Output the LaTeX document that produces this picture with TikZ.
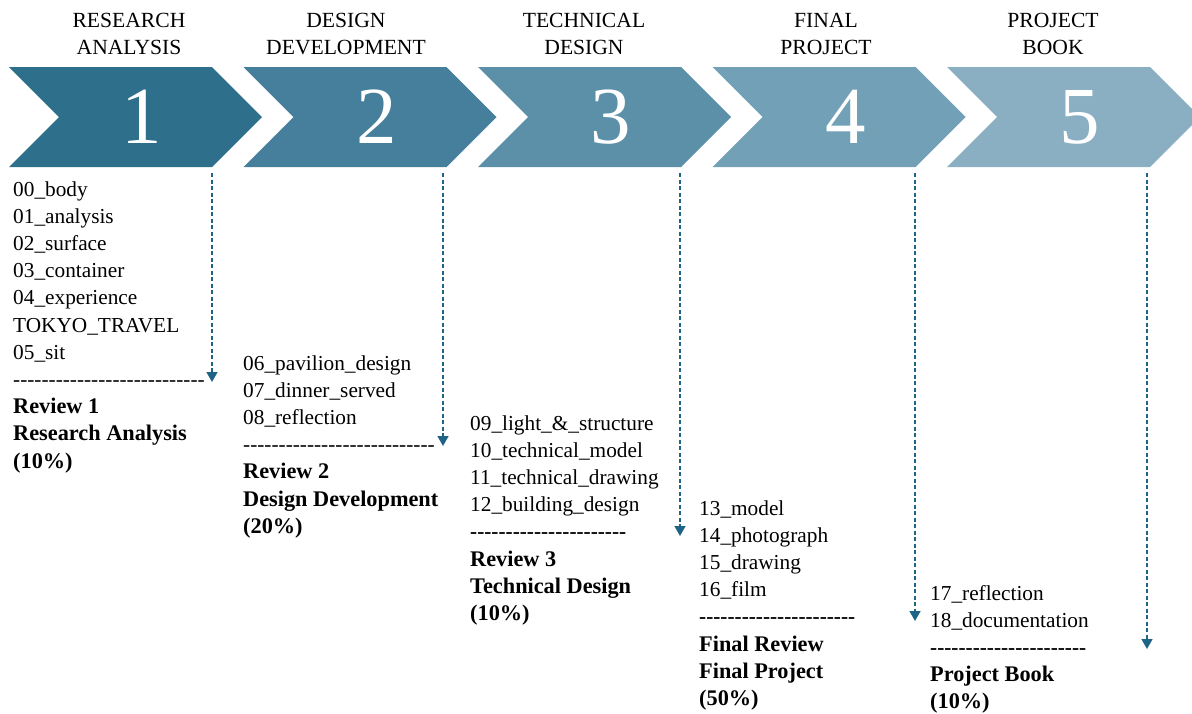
\documentclass[tikz,border=0pt]{standalone}
\usepackage{fontspec}
\setmainfont{Liberation Serif}
\usetikzlibrary{arrows.meta}

% a run of separate hyphens (the kerns keep them from joining into dashes)
\ExplSyntaxOn
\cs_new:Npn \hyphenrun #1 { \prg_replicate:nn {#1} { - \kern 0pt } }
\ExplSyntaxOff

% bold review lines are set a little larger than the task names
\newcommand\rev[1]{{\fontsize{22.3}{27.2}\selectfont\bfseries #1}}

\definecolor{stepA}{RGB}{46,111,139}
\definecolor{stepB}{RGB}{69,127,155}
\definecolor{stepC}{RGB}{92,144,168}
\definecolor{stepD}{RGB}{114,160,182}
\definecolor{stepE}{RGB}{138,175,194}
\definecolor{arrowblue}{RGB}{30,100,135}

\tikzset{
  numlabel/.style={text=white, font=\fontsize{81}{81}\selectfont, inner sep=0pt, anchor=base},
  titlelabel/.style={font=\fontsize{21.6}{27}\selectfont, inner sep=0pt, anchor=base},
  tasklist/.style={font=\fontsize{21.3}{27.2}\selectfont, inner sep=0pt, anchor=base west},
  conn/.style={draw=arrowblue, line width=1.6pt, dash pattern=on 4pt off 2.5pt,
    -{Triangle[width=11pt,length=10pt]}},
}

\begin{document}
\begin{tikzpicture}[x=1pt, y=-1pt]
\useasboundingbox (0,0) rectangle (1192,713);
\clip (0,0) rectangle (1192,713);

% chevrons
\foreach \k/\col in {0/stepA, 1/stepB, 2/stepC, 3/stepD, 4/stepE}{
  \pgfmathsetmacro\L{9+234.5*\k}
  \fill[\col] (\L,67) -- ++(203,0) -- ++(50,50) -- ++(-50,50) -- ++(-203,0) -- ++(50,-50) -- cycle;
}

% step numbers
\node[numlabel] (n1) at (142,143) {1};
\node[numlabel] (n2) at (376.5,143) {2};
\node[numlabel] (n3) at (611,143) {3};
\node[numlabel] (n4) at (845.5,143) {4};
\node[numlabel] (n5) at (1080,143) {5};

% phase titles
\node[titlelabel] (t1) at (129,27) {\begin{tabular}[t]{@{}c@{}}RESEARCH\\ANALYSIS\end{tabular}};
\node[titlelabel] (t2) at (346,27) {\begin{tabular}[t]{@{}c@{}}DESIGN\\DEVELOPMENT\end{tabular}};
\node[titlelabel] (t3) at (584,27) {\begin{tabular}[t]{@{}c@{}}TECHNICAL\\DESIGN\end{tabular}};
\node[titlelabel] (t4) at (826,27) {\begin{tabular}[t]{@{}c@{}}FINAL\\PROJECT\end{tabular}};
\node[titlelabel] (t5) at (1053,27) {\begin{tabular}[t]{@{}c@{}}PROJECT\\BOOK\end{tabular}};

% task lists with reviews
\node[tasklist] (c1) at (13,196) {\begin{tabular}[t]{@{}l@{}}
00\_body\\01\_analysis\\02\_surface\\03\_container\\04\_experience\\TOKYO\_TRAVEL\\05\_sit\\
\hyphenrun{27}\\
\rev{Review 1}\\\rev{Research Analysis}\\\rev{(10\%)}
\end{tabular}};

\node[tasklist] (c2) at (243,370) {\begin{tabular}[t]{@{}l@{}}
06\_pavilion\_design\\07\_dinner\_served\\08\_reflection\\
\hyphenrun{27}\\
\rev{Review 2}\\\rev{Design Development}\\\rev{(20\%)}
\end{tabular}};

\node[tasklist] (c3) at (470,430) {\begin{tabular}[t]{@{}l@{}}
09\_light\_\&\_structure\\10\_technical\_model\\11\_technical\_drawing\\12\_building\_design\\
\textbf{\hyphenrun{22}}\\
\rev{Review 3}\\\rev{Technical Design}\\\rev{(10\%)}
\end{tabular}};

\node[tasklist] (c4) at (699,515) {\begin{tabular}[t]{@{}l@{}}
13\_model\\14\_photograph\\15\_drawing\\16\_film\\
\textbf{\hyphenrun{22}}\\
\rev{Final Review}\\\rev{Final Project}\\\rev{(50\%)}
\end{tabular}};

\node[tasklist] (c5) at (930,600) {\begin{tabular}[t]{@{}l@{}}
17\_reflection\\18\_documentation\\
\textbf{\hyphenrun{22}}\\
\rev{Project Book}\\\rev{(10\%)}
\end{tabular}};

% timeline drops
\coordinate (s1) at (212,173);  \coordinate (e1) at (212,382);
\coordinate (s2) at (443,173);  \coordinate (e2) at (443,446);
\coordinate (s3) at (680,173);  \coordinate (e3) at (680,536);
\coordinate (s4) at (915,173);  \coordinate (e4) at (915,621);
\coordinate (s5) at (1147,173); \coordinate (e5) at (1147,649);
\draw[conn] (s1) -- (e1);
\draw[conn] (s2) -- (e2);
\draw[conn] (s3) -- (e3);
\draw[conn] (s4) -- (e4);
\draw[conn] (s5) -- (e5);
\end{tikzpicture}
\end{document}
